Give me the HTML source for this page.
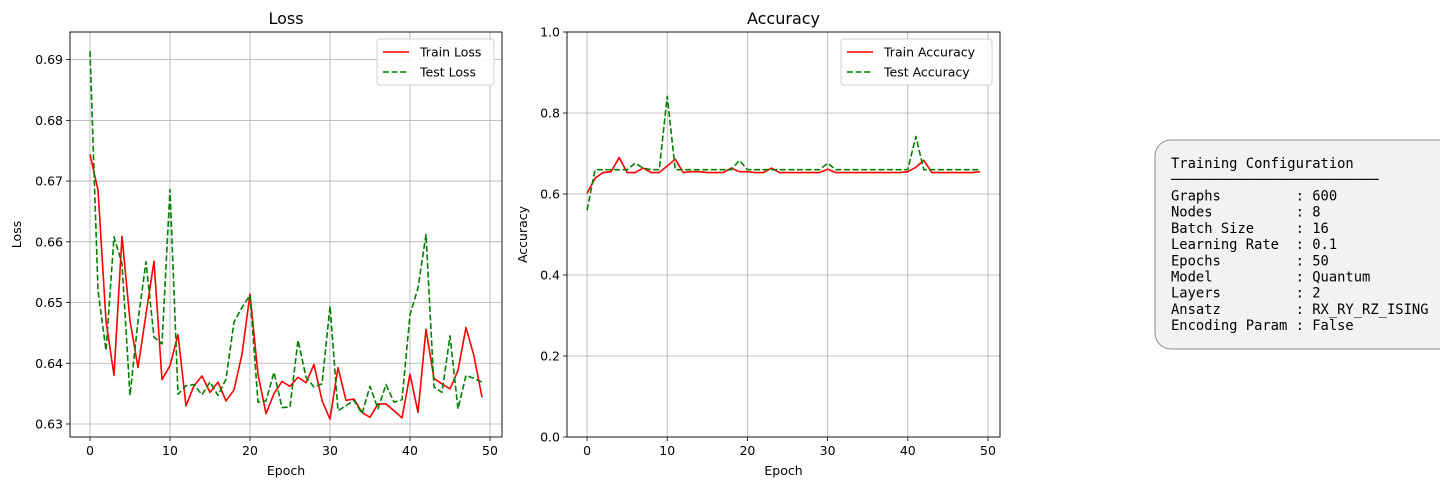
<!DOCTYPE html>
<html><head><meta charset="utf-8"><style>
body{margin:0;background:#fff;width:1440px;height:490px;overflow:hidden}
svg{display:block;font-family:"DejaVu Sans","Liberation Sans",sans-serif}
</style></head><body>
<svg id="svg" width="1440" height="490" viewBox="0 0 1440 490" xmlns="http://www.w3.org/2000/svg">
<g id="loss"></g>
<g id="acc"></g>
<g>
<rect x="1155" y="140" width="300" height="209" rx="16" fill="#f2f2f2" stroke="#8c8c8c" stroke-width="1"/>
<text font-family="'DejaVu Sans Mono','Liberation Mono',monospace" font-size="13.8" fill="#000" xml:space="preserve">
<tspan x="1171" y="168">Training Configuration</tspan>
<tspan x="1171" y="184">─────────────────────────</tspan>
<tspan x="1171" y="200.5">Graphs         : 600</tspan>
<tspan x="1171" y="216.7">Nodes          : 8</tspan>
<tspan x="1171" y="232.9">Batch Size     : 16</tspan>
<tspan x="1171" y="249.1">Learning Rate  : 0.1</tspan>
<tspan x="1171" y="265.3">Epochs         : 50</tspan>
<tspan x="1171" y="281.5">Model          : Quantum</tspan>
<tspan x="1171" y="297.7">Layers         : 2</tspan>
<tspan x="1171" y="313.9">Ansatz         : RX_RY_RZ_ISING</tspan>
<tspan x="1171" y="330.1">Encoding Param : False</tspan>
</text>
</g>
</svg>
<script>
const epochs = Array.from({length:50},(_, i)=>i);
const trainLoss = [0.6744,0.6685,0.6470,0.6380,0.6609,0.6470,0.6393,0.6481,0.6568,0.6373,0.6396,0.6447,0.6330,0.6363,0.6379,0.6352,0.6369,0.6338,0.6356,0.6415,0.6514,0.6382,0.6317,0.6350,0.6370,0.6362,0.6377,0.6368,0.6398,0.6339,0.6308,0.6393,0.6339,0.6341,0.6319,0.6311,0.6333,0.6333,0.6322,0.6310,0.6382,0.6319,0.6456,0.6375,0.6366,0.6358,0.6388,0.6459,0.6412,0.6344];
const testLoss = [0.6914,0.6520,0.6421,0.6608,0.6564,0.6347,0.6470,0.6567,0.6443,0.6432,0.6686,0.6349,0.6363,0.6365,0.6348,0.6369,0.6347,0.6374,0.6468,0.6492,0.6512,0.6336,0.6338,0.6385,0.6327,0.6328,0.6438,0.6377,0.6361,0.6366,0.6494,0.6322,0.6330,0.6339,0.6317,0.6362,0.6325,0.6365,0.6336,0.6340,0.6480,0.6524,0.6612,0.6361,0.6352,0.6445,0.6325,0.6380,0.6375,0.6369];
const trainAcc = [0.6017,0.639,0.653,0.655,0.690,0.653,0.653,0.664,0.653,0.653,0.669,0.686,0.653,0.655,0.655,0.653,0.653,0.653,0.664,0.655,0.655,0.653,0.653,0.664,0.653,0.653,0.653,0.653,0.653,0.653,0.661,0.653,0.653,0.653,0.653,0.653,0.653,0.653,0.653,0.653,0.655,0.666,0.683,0.653,0.653,0.653,0.653,0.653,0.653,0.655];
const testAcc = [0.560,0.660,0.660,0.660,0.660,0.660,0.676,0.664,0.660,0.660,0.841,0.660,0.660,0.660,0.660,0.660,0.660,0.660,0.660,0.683,0.660,0.660,0.660,0.660,0.660,0.660,0.660,0.660,0.660,0.660,0.676,0.660,0.660,0.660,0.660,0.660,0.660,0.660,0.660,0.660,0.660,0.742,0.660,0.660,0.660,0.660,0.660,0.660,0.660,0.660];
const xTicks = [0,10,20,30,40,50];
const lossTicks = [0.63,0.64,0.65,0.66,0.67,0.68,0.69];
const accTicks = [0.0,0.2,0.4,0.6,0.8,1.0];

const NS='http://www.w3.org/2000/svg';
function mk(parent,tag,attrs,text){const e=document.createElementNS(NS,tag);for(const k in attrs)e.setAttribute(k,attrs[k]);if(text!=null)e.textContent=text;parent.appendChild(e);return e;}

function drawChart(g,cfg){
  const {L,R,T,B,xmin,xmax,ymin,ymax,yTicks,yFmt,title,ylabel,series,legendW}=cfg;
  const sx=v=>L+(v-xmin)/(xmax-xmin)*(R-L);
  const sy=v=>B-(v-ymin)/(ymax-ymin)*(B-T);
  xTicks.forEach(t=>{
    const x=sx(t);
    const gl=mk(g,'line',{x1:x,x2:x,y1:T,y2:B,stroke:'#b0b0b0','stroke-width':0.8});
    
    
    mk(g,'line',{x1:x,x2:x,y1:B,y2:B+4,stroke:'#000','stroke-width':0.8});
    const tl=mk(g,'text',{x:x,y:B+18,'text-anchor':'middle','font-size':12.5},String(t));
    
    
  });
  yTicks.forEach(t=>{
    const y=sy(t);
    const gl=mk(g,'line',{x1:L,x2:R,y1:y,y2:y,stroke:'#b0b0b0','stroke-width':0.8});
    
    
    mk(g,'line',{x1:L-4,x2:L,y1:y,y2:y,stroke:'#000','stroke-width':0.8});
    const tl=mk(g,'text',{x:L-7,y:y+4.5,'text-anchor':'end','font-size':12.5},yFmt(t));
    
    
  });
  series.forEach(s=>{
    const d=s.data.map((v,i)=>(i?'L':'M')+sx(epochs[i]).toFixed(2)+','+sy(v).toFixed(2)).join(' ');
    const p=mk(g,'path',{d:d,fill:'none',stroke:s.color,'stroke-width':1.6,'stroke-dasharray':s.dash||'none','stroke-linejoin':'round'});
    
    
  });
  mk(g,'rect',{x:L,y:T,width:R-L,height:B-T,fill:'none',stroke:'#000','stroke-width':0.9});
  const tt=mk(g,'text',{x:(L+R)/2,y:T-8,'text-anchor':'middle','font-size':16},title);
  
  
  const xl=mk(g,'text',{x:(L+R)/2,y:B+38,'text-anchor':'middle','font-size':12.5},'Epoch');
  
  
  const yl=mk(g,'text',{x:0,y:0,'text-anchor':'middle','font-size':12.5,transform:`translate(${cfg.ylabelX},${(T+B)/2}) rotate(-90)`},ylabel);
  
  
  const lg=mk(g,'g',{});
  
  
  const lx=R-8-legendW, ly=T+7;
  mk(lg,'rect',{x:lx,y:ly,width:legendW,height:46,rx:3,fill:'#fff','fill-opacity':0.85,stroke:'#d0d0d0','stroke-width':1});
  series.forEach((s,i)=>{
    const yy=ly+13+i*20;
    const e=mk(lg,'g',{});
    
    
    mk(e,'line',{x1:lx+6,x2:lx+32,y1:yy,y2:yy,stroke:s.color,'stroke-width':1.6,'stroke-dasharray':s.dash||'none'});
    mk(e,'text',{x:lx+43,y:yy+4.5,'font-size':12.5},s.label);
  });
}
drawChart(document.getElementById('loss'),{L:70,R:502,T:32,B:437,xmin:-2.5,xmax:51.5,ymin:0.63-(437-424)/6067,ymax:0.69+(59.6-32)/6067,
  yTicks:lossTicks,yFmt:t=>t.toFixed(2),title:'Loss',ylabel:'Loss',ylabelX:21,legendW:117,
  series:[{data:trainLoss,color:'#ff0000',name:'train-loss-line',label:'Train Loss'},{data:testLoss,color:'#008000',dash:'6,2.6',name:'test-loss-line',label:'Test Loss'}]});
drawChart(document.getElementById('acc'),{L:567,R:1000,T:32,B:437,xmin:-2.5,xmax:51.5,ymin:0,ymax:1,
  yTicks:accTicks,yFmt:t=>t.toFixed(1),title:'Accuracy',ylabel:'Accuracy',ylabelX:527,legendW:151,
  series:[{data:trainAcc,color:'#ff0000',name:'train-accuracy-line',label:'Train Accuracy'},{data:testAcc,color:'#008000',dash:'6,2.6',name:'test-accuracy-line',label:'Test Accuracy'}]});
</script>
</body></html>
